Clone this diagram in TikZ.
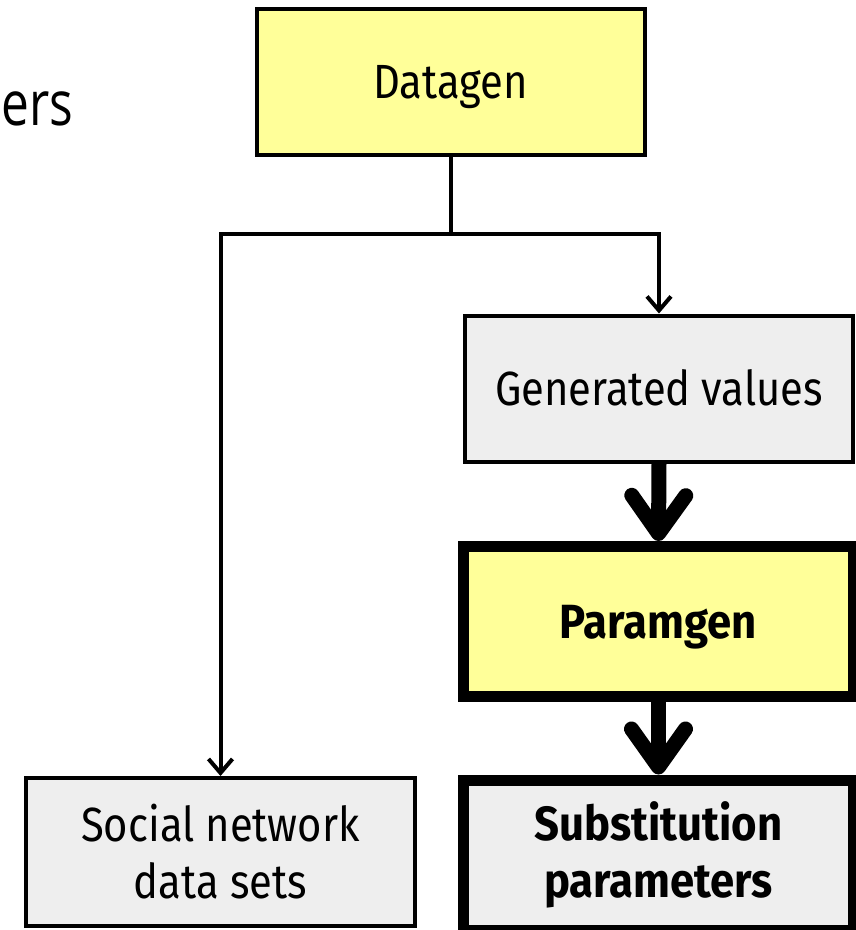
\documentclass[tikz,border=0pt]{standalone}
\usepackage{fontspec}
\setmainfont{Fira Sans}[FakeStretch=0.87, BoldFeatures={FakeStretch=0.91}]
\newfontfamily\sidefont{Open Sans}[FakeStretch=0.8]
\usetikzlibrary{arrows.meta}

\definecolor{boxyellow}{HTML}{FFFF99}
\definecolor{boxgray}{HTML}{EEEEEE}

\tikzset{
  box/.style={draw=black, rectangle, inner sep=0pt, align=center,
    minimum width=388pt, minimum height=146pt, line width=4pt,
    font=\fontsize{48}{57}\selectfont},
  oneline/.style={text height=33pt, text depth=0pt},
  heavybox/.style={box, line width=11pt, minimum width=390pt,
    minimum height=150pt, font=\bfseries\fontsize{48}{57}\selectfont},
  thinlink/.style={line width=4pt,
    -{Straight Barb[length=14pt,width=24pt]}},
  thinline/.style={line width=4pt},
  thicklink/.style={line width=15pt, line cap=butt,
    -{Straight Barb[length=38pt,width=54pt,round]}},
}

\begin{document}
\begin{tikzpicture}[x=1pt,y=-1pt]
  \useasboundingbox (0,0) rectangle (856,930);
  \begin{scope}
  \clip (0,0) rectangle (856,930);

  % title fragment on the left
  \node[anchor=base west, inner sep=0pt, font=\sidefont\fontsize{62}{70}\selectfont]
    (side) at (1,125) {ers};

  \node[box, oneline, fill=boxyellow] (datagen) at (450.5,82) {Datagen};
  \node[box, oneline, fill=boxgray] (genvals) at (659,388.5) {Generated values};
  \node[heavybox, oneline, fill=boxyellow] (paramgen) at (658.5,621.5) {Paramgen};
  \node[heavybox, fill=boxgray] (subst) at (658.5,855) {Substitution\\parameters};
  \node[box, fill=boxgray, minimum width=389pt, minimum height=148pt]
    (social) at (220.5,852) {Social network\\data sets};

  \coordinate (split) at (datagen.south |- 0,234);
  \draw[thinline] (datagen.south) -- (split);
  \draw[thinlink] (split) -| (genvals.north);
  \draw[thinlink] (split) -| (social.north);

  \draw[thicklink] (genvals.south) -- (paramgen.north);
  \draw[thicklink] (paramgen.south) -- (subst.north);
  \end{scope}
\end{tikzpicture}
\end{document}
